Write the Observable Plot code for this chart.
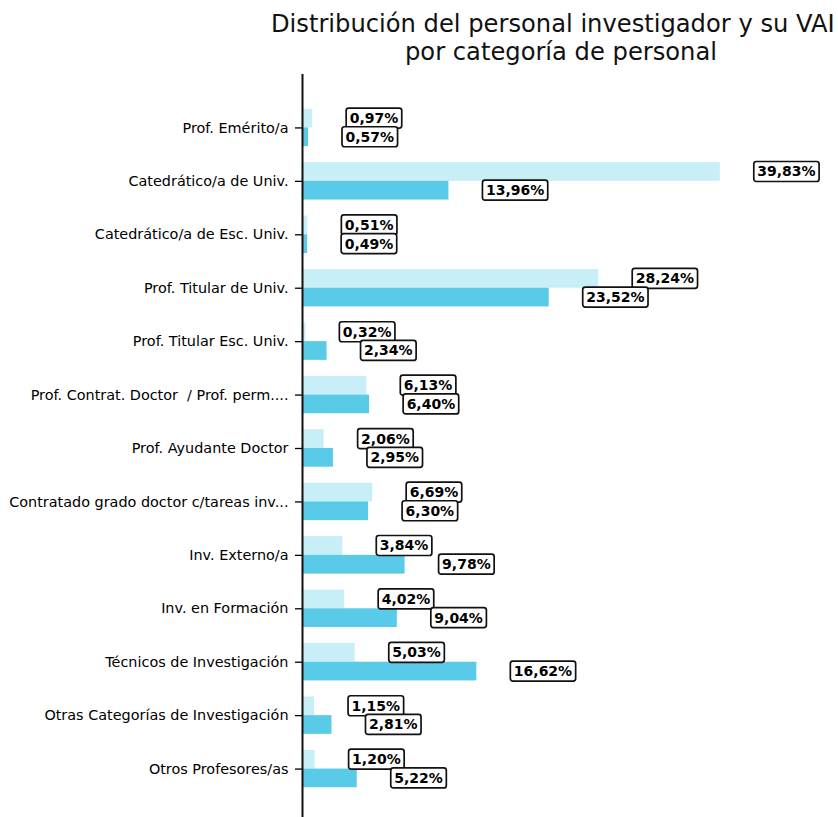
<!DOCTYPE html>
<html><head><meta charset="utf-8">
<script src="https://cdn.jsdelivr.net/npm/d3@7"></script>
<script src="https://cdn.jsdelivr.net/npm/@observablehq/plot@0.6"></script>
<style>
html,body{margin:0;padding:0;background:#fff;}
body{overflow:hidden;width:838px;height:817px;font-family:"DejaVu Sans",sans-serif;color:#000;}
#title{position:relative;height:74px;}
#title div{position:absolute;white-space:nowrap;font-size:24.2px;line-height:28px;color:#111;}
#t1{left:271px;top:10px;}
#t2{left:561px;top:38px;transform:translateX(-50%);}
#chart svg{display:block;overflow:visible;}
</style></head><body>
<div id="title"><div id="t1">Distribución del personal investigador y su VAI</div><div id="t2">por categoría de personal</div></div>
<div id="chart"></div>
<script>
const categories = [
  "Prof. Emérito/a",
  "Catedrático/a de Univ.",
  "Catedrático/a de Esc. Univ.",
  "Prof. Titular de Univ.",
  "Prof. Titular Esc. Univ.",
  "Prof. Contrat. Doctor  / Prof. perm....",
  "Prof. Ayudante Doctor",
  "Contratado grado doctor c/tareas inv...",
  "Inv. Externo/a",
  "Inv. en Formación",
  "Técnicos de Investigación",
  "Otras Categorías de Investigación",
  "Otros Profesores/as"
];
const personalPct = [0.97, 39.83, 0.51, 28.24, 0.32, 6.13, 2.06, 6.69, 3.84, 4.02, 5.03, 1.15, 1.20];
const vaiPct      = [0.57, 13.96, 0.49, 23.52, 2.34, 6.40, 2.95, 6.30, 9.78, 9.04, 16.62, 2.81, 5.22];

const lightColor = "#c8eef8";
const darkColor = "#59cae7";

const personal = categories.map((c, i) => ({cat: c, v: personalPct[i]}));
const vai = categories.map((c, i) => ({cat: c, v: vaiPct[i]}));
const fmt = d => d.v.toFixed(2).replace(".", ",") + "%";

const H = 748;
const step = H / 14;
const bw = step * 0.7;

const plot = Plot.plot({
  width: 838,
  height: H,
  marginLeft: 302,
  marginRight: 0,
  marginTop: 0,
  marginBottom: 0,
  style: {fontFamily: "DejaVu Sans, sans-serif", fontSize: "14px", background: "#fff", color: "#000", overflow: "visible"},
  x: {domain: [0, 51.1], axis: null},
  y: {domain: categories, type: "band", paddingInner: 0.3, paddingOuter: 0.65, round: false, label: null},
  marks: [
    Plot.barX(personal, {x: "v", y: "cat", fill: lightColor, insetBottom: bw / 2, insetTop: 0}),
    Plot.barX(vai, {x: "v", y: "cat", fill: darkColor, insetTop: bw / 2, insetBottom: 0}),
    Plot.axisY({tickSize: 7, tickPadding: 7, fontSize: 14.4, label: null, stroke: "#000", strokeWidth: 1.3}),
    Plot.ruleX([0], {stroke: "#111", strokeWidth: 2}),
    Plot.text(personal, {x: "v", y: "cat", text: fmt, dx: 37, dy: -bw / 4, textAnchor: "start", fontWeight: "bold", fontSize: 14, fill: "#000", className: "lbl"}),
    Plot.text(vai, {x: "v", y: "cat", text: fmt, dx: 37, dy: bw / 4, textAnchor: "start", fontWeight: "bold", fontSize: 14, fill: "#000", className: "lbl"})
  ]
});
document.getElementById("chart").appendChild(plot);

// boxes behind the value labels
const ns = "http://www.w3.org/2000/svg";
plot.querySelectorAll("g.lbl text").forEach(t => {
  const b = t.getBBox();
  const r = document.createElementNS(ns, "rect");
  const px = 3.5, py = 2;
  r.setAttribute("x", b.x - px);
  r.setAttribute("y", b.y - py);
  r.setAttribute("width", b.width + 2 * px);
  r.setAttribute("height", b.height + 2 * py);
  r.setAttribute("rx", 2.5);
  r.setAttribute("fill", "#fff");
  r.setAttribute("stroke", "#111");
  r.setAttribute("stroke-width", 1.7);
  if (t.getAttribute("transform")) r.setAttribute("transform", t.getAttribute("transform"));
  t.parentNode.insertBefore(r, t);
});
</script>
</body></html>
